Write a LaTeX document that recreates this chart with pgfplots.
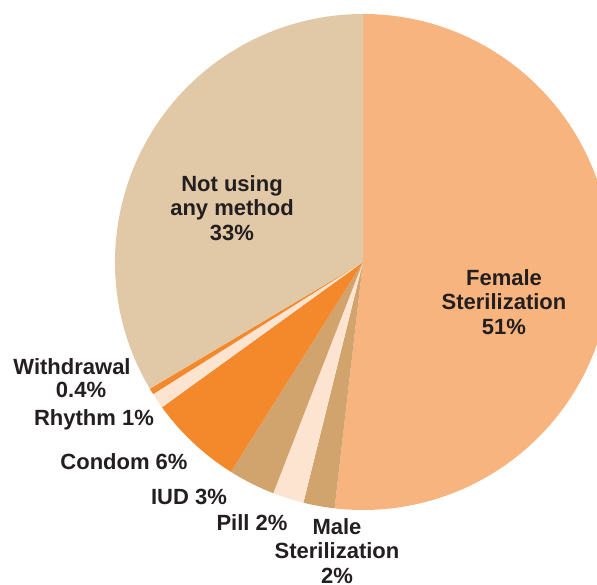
\documentclass[border=0pt]{standalone}
\usepackage{pgfplots}
\pgfplotsset{compat=1.18}
\usepackage{fontspec}
\setmainfont{Liberation Sans}
\definecolor{cF}{HTML}{F8B47E}
\definecolor{cT}{HTML}{D1A36D}
\definecolor{cL}{HTML}{FDE4D0}
\definecolor{cO}{HTML}{F3892B}
\definecolor{cB}{HTML}{E1C8A7}
\definecolor{txt}{HTML}{231F20}
\tikzset{lab/.style={font=\fontsize{22}{24.5}\selectfont\bfseries, text=txt, align=center, inner sep=0pt}}
\begin{document}
\begin{tikzpicture}
\begin{axis}[
  scale only axis, width=597pt, height=585pt,
  xmin=0, xmax=597, ymin=0, ymax=585,
  hide axis, clip=true,
]
\def\a{90}
\pgfplotsforeachungrouped \v/\c in {51/cF, 2/cT, 2/cL, 3/cT, 6/cO, 1/cL, 0.4/cO, 33/cB} {
  \pgfmathsetmacro\b{\a - \v/98.4*360}
  \edef\tmp{\noexpand\fill[\c] (axis cs:363,323) -- ++(\a:248pt) arc[start angle=\a, end angle=\b, radius=248pt] -- cycle;}
  \tmp
  \global\let\a\b
}
\node[lab] at (axis cs:232,377) {Not using\\any method\\33\%};
\node[lab] at (axis cs:504,283) {Female\\Sterilization\\51\%};
\node[lab] at (axis cs:72,218) {Withdrawal};
\node[lab] at (axis cs:81,195) {0.4\%};
\node[lab] at (axis cs:94,165) {Rhythm 1\%};
\node[lab] at (axis cs:124,123) {Condom 6\%};
\node[lab] at (axis cs:189,88) {IUD 3\%};
\node[lab] at (axis cs:252,62) {Pill 2\%};
\node[lab] at (axis cs:337,34) {Male\\Sterilization\\2\%};
\end{axis}
\pgfresetboundingbox
\useasboundingbox (current axis.south west) rectangle (current axis.north east);
\end{tikzpicture}
\end{document}
